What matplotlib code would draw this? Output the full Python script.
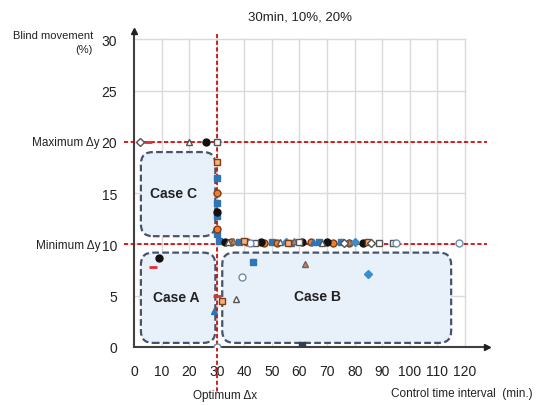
import matplotlib
matplotlib.use("Agg")
import matplotlib.pyplot as plt
from matplotlib.patches import FancyBboxPatch

plt.rcParams['font.family'] = ['Liberation Sans', 'DejaVu Sans']

# ---- data ----
x_ticks = [0, 10, 20, 30, 40, 50, 60, 70, 80, 90, 100, 110, 120]
y_ticks = [0, 5, 10, 15, 20, 25, 30]
optimum_dx = 30
max_dy = 20
min_dy = 10

blue_sq_x = [30, 30, 30, 31, 43, 38, 50, 57, 67, 75, 30]
blue_sq_y = [16.5, 14, 12.8, 10.3, 8.3, 10.2, 10.2, 10.1, 10.2, 10.2, 11]
orange_circ_x = [30, 35, 41, 47, 52, 64, 72, 78, 30]
orange_circ_y = [11.5, 10.2, 10.2, 10.1, 10.1, 10.2, 10.1, 10.1, 15]
black_circ_x = [26, 9, 30, 33, 46, 61, 70, 83]
black_circ_y = [20, 8.7, 13.2, 10.2, 10.2, 10.2, 10.2, 10.1]
open_tri_x = [20, 37, 34, 53, 68]
open_tri_y = [20, 4.7, 10.2, 10.2, 10.1]
brown_tri_x = [62, 36, 58, 78]
brown_tri_y = [8.1, 10.3, 10.3, 10.2]
open_sq_x = [30, 89, 94, 44, 60]
open_sq_y = [20, 10.1, 10.1, 10.1, 10.2]
open_circ_x = [95, 118, 39, 30, 42]
open_circ_y = [10.1, 10.1, 6.8, 0, 10.1]
blue_dia_x = [85, 55, 80]
blue_dia_y = [7.1, 10.2, 10.2]
red_dash_x = [5, 7, 30]
red_dash_y = [20, 7.8, 5]
blue_tri_x = [29, 65]
blue_tri_y = [3.5, 10.2]
orange_sq_x = [32, 40, 30, 56, 85]
orange_sq_y = [4.5, 10.3, 18, 10.1, 10.2]
open_dia_x = [2, 76, 86]
open_dia_y = [20, 10.1, 10.1]
dark_x = [61]
dark_y = [0.2]

W, H = 540, 406
fig = plt.figure(figsize=(W / 100, H / 100), dpi=100)
L, R, B, T = 134, 487, 348, 32
ax = fig.add_axes([L / W, 1 - B / H, (R - L) / W, (B - T) / H])
ax.set_xlim(0, 128)
ax.set_ylim(0, 30.8)

# grid
for xv in x_ticks[1:]:
    ax.plot([xv, xv], [0, 30], color='#d9d9d9', lw=1, zorder=0)
for yv in y_ticks[1:]:
    ax.plot([0, 120], [yv, yv], color='#d9d9d9', lw=1, zorder=0)

# case boxes (rounded, dashed)
ax_px_x = (R - L) / 128.0
ax_px_y = (B - T) / 30.8
rs = 12 / ax_px_x
asp = (12 / ax_px_y) / rs
boxes = [(2.5, 10.8, 29.5, 19.0), (2.5, 0.4, 29.5, 9.2), (32.0, 0.4, 115.0, 9.2)]
for (x0, y0, x1, y1) in boxes:
    p = FancyBboxPatch((x0, y0), x1 - x0, y1 - y0,
                       boxstyle=f"round,pad=0,rounding_size={rs}",
                       mutation_aspect=asp, facecolor='#e8f0fa',
                       edgecolor='#44546a', lw=1.6, ls=(0, (3, 1.5)), zorder=1)
    ax.add_patch(p)
ax.text(14.5, 15.0, 'Case C', ha='center', va='center', fontsize=10, fontweight='bold', color='#222222', zorder=2)
ax.text(15.5, 4.9, 'Case A', ha='center', va='center', fontsize=10, fontweight='bold', color='#222222', zorder=2)
ax.text(66.5, 5.0, 'Case B', ha='center', va='center', fontsize=10, fontweight='bold', color='#222222', zorder=2)

# red dashed reference lines
rc = '#c00000'
ax.plot([-3.5, 128], [max_dy, max_dy], color=rc, lw=1.2, ls=(0, (2.5, 1.5)), clip_on=False, zorder=3)
ax.plot([-3.5, 128], [min_dy, min_dy], color=rc, lw=1.2, ls=(0, (2.5, 1.5)), clip_on=False, zorder=3)
ax.plot([optimum_dx, optimum_dx], [30.5, -4.4], color=rc, lw=1.2, ls=(0, (2.5, 1.5)), clip_on=False, zorder=3)

ms = 5
ax.plot(blue_sq_x, blue_sq_y, 's', ms=ms, mfc='#2e75b6', mec='#2e75b6', ls='none', zorder=4)
ax.plot(orange_circ_x, orange_circ_y, 'o', ms=ms, mfc='#ed7d31', mec='#843c0c', ls='none', zorder=4)
ax.plot(black_circ_x, black_circ_y, 'o', ms=ms, mfc='#111111', mec='#111111', ls='none', zorder=4)
ax.plot(open_tri_x, open_tri_y, '^', ms=ms, mfc='white', mec='#555555', ls='none', zorder=4)
ax.plot(brown_tri_x, brown_tri_y, '^', ms=ms, mfc='#b08a72', mec='#7f6050', ls='none', zorder=4)
ax.plot(open_sq_x, open_sq_y, 's', ms=ms, mfc='white', mec='#555555', ls='none', zorder=4)
ax.plot(open_circ_x, open_circ_y, 'o', ms=ms, mfc='white', mec='#6a8bb0', ls='none', zorder=4)
ax.plot(blue_dia_x, blue_dia_y, 'D', ms=4.5, mfc='#3c8dcb', mec='#3c8dcb', ls='none', zorder=4)
ax.plot(red_dash_x, red_dash_y, '_', ms=6, mew=2, color='#e03030', ls='none', zorder=4)
ax.plot(blue_tri_x, blue_tri_y, '^', ms=ms, mfc='#2e75b6', mec='#2e75b6', ls='none', zorder=4)
ax.plot(orange_sq_x, orange_sq_y, 's', ms=ms, mfc='#f4b183', mec='#843c0c', ls='none', zorder=4)
ax.plot(open_dia_x, open_dia_y, 'D', ms=4, mfc='white', mec='#555555', ls='none', zorder=4)
ax.plot(dark_x, dark_y, 's', ms=4, mfc='#333f50', mec='#333f50', ls='none', zorder=4)

# axes styling
for s in ['top', 'right']:
    ax.spines[s].set_visible(False)
for s in ['left', 'bottom']:
    ax.spines[s].set_color('#404040')
    ax.spines[s].set_linewidth(1.5)
ax.plot(1, 0, '>', ms=4, color='#202020', transform=ax.transAxes, clip_on=False, zorder=5)
ax.plot(0, 1, '^', ms=4, color='#202020', transform=ax.transAxes, clip_on=False, zorder=5)

ax.set_xticks(x_ticks)
ax.set_yticks(y_ticks)
ax.set_xticklabels([str(v) for v in x_ticks])
ax.set_yticklabels([str(v) for v in y_ticks])
ax.tick_params(axis='both', length=0, labelsize=10, colors='#222222')
ax.tick_params(axis='x', pad=12)
ax.tick_params(axis='y', pad=12)

def ftext(px, py, s, **kw):
    fig.text(px / W, 1 - py / H, s, **kw)

ftext(300, 17, '30min, 10%, 20%', ha='center', va='center', fontsize=9.5, color='#222222')
ftext(93, 36, 'Blind movement', ha='right', va='center', fontsize=8, color='#222222')
ftext(93, 50, '(%)', ha='right', va='center', fontsize=8, color='#222222')
ftext(100, 143, 'Maximum \u0394y', ha='right', va='center', fontsize=8.5, color='#222222')
ftext(100, 246, 'Minimum \u0394y', ha='right', va='center', fontsize=8.5, color='#222222')
ftext(225, 396, 'Optimum \u0394x', ha='center', va='center', fontsize=8.5, color='#222222')
ftext(533, 394, 'Control time interval  (min.)', ha='right', va='center', fontsize=8.5, color='#222222')

fig.savefig('out.png', dpi=100)
